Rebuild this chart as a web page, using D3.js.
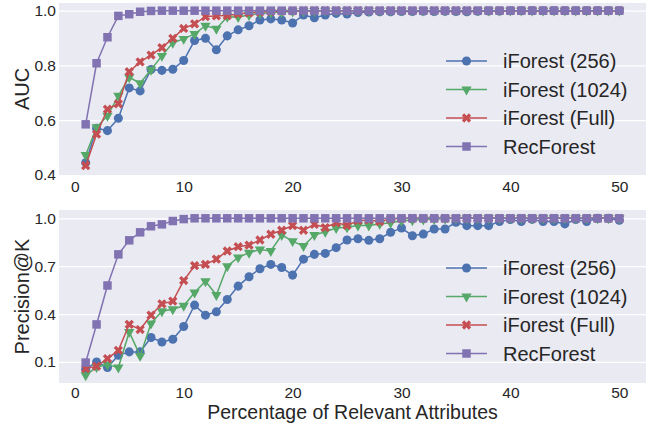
<!DOCTYPE html>
<html>
<head>
<meta charset="utf-8">
<script src="https://cdn.jsdelivr.net/npm/d3@7"></script>
<style>
  body { margin: 0; background: #fff; }
  svg { display: block; font-family: "Liberation Sans", Arial, sans-serif; }
  .tick text { fill: #262626; font-size: 15.5px; }
  .grid line { stroke: #fff; stroke-width: 1.2; }
  .label { fill: #262626; font-size: 20px; }
  .legend text { fill: #262626; font-size: 20px; }
</style>
</head>
<body>
<div id="chart"></div>
<script>
const pct = [1,2,3,4,5,6,7,8,9,10,11,12,13,14,15,16,17,18,19,20,21,22,23,24,25,
  26,27,28,29,30,31,32,33,34,35,36,37,38,39,40,41,42,43,44,45,46,47,48,49,50];

const seriesNames = ['iForest (256)', 'iForest (1024)', 'iForest (Full)', 'RecForest'];

const aucIF256 = [0.445,0.571,0.562,0.607,0.718,0.707,0.785,0.782,0.786,0.818,0.891,0.899,0.857,0.908,0.930,
  0.945,0.966,0.970,0.966,0.955,0.984,0.974,0.984,0.990,0.988,0.993,0.995,0.996,0.996,0.997,0.997,0.998,0.997,
  0.998,0.997,0.996,0.998,0.999,0.999,1.0,1.0,1.0,1.0,1.0,1.0,1.0,1.0,1.0,1.0,1.0];
const aucIF1024 = [0.473,0.574,0.616,0.689,0.757,0.735,0.784,0.835,0.883,0.897,0.915,0.945,0.934,0.978,0.977,
  0.984,0.990,0.993,0.995,0.997,0.998,0.999,1.0,1.0,1.0,1.0,1.0,1.0,1.0,1.0,1.0,1.0,1.0,1.0,1.0,1.0,1.0,1.0,
  1.0,1.0,1.0,1.0,1.0,1.0,1.0,1.0,1.0,1.0,1.0,1.0];
const aucIFFull = [0.434,0.549,0.640,0.660,0.777,0.813,0.838,0.865,0.899,0.935,0.952,0.978,0.981,0.982,0.988,
  0.992,0.995,0.997,0.998,0.999,1.0,1.0,1.0,1.0,1.0,1.0,1.0,1.0,1.0,1.0,1.0,1.0,1.0,1.0,1.0,1.0,1.0,1.0,1.0,
  1.0,1.0,1.0,1.0,1.0,1.0,1.0,1.0,1.0,1.0,1.0];
const aucRec = [0.585,0.808,0.903,0.981,0.987,0.996,0.999,1.0,1.0,1.0,1.0,1.0,1.0,1.0,1.0,1.0,1.0,1.0,1.0,1.0,
  1.0,1.0,1.0,1.0,1.0,1.0,1.0,1.0,1.0,1.0,1.0,1.0,1.0,1.0,1.0,1.0,1.0,1.0,1.0,1.0,1.0,1.0,1.0,1.0,1.0,1.0,
  1.0,1.0,1.0,1.0];

const pkIF256 = [0.054,0.100,0.065,0.142,0.163,0.163,0.253,0.225,0.242,0.322,0.456,0.393,0.414,0.491,0.575,
  0.634,0.684,0.711,0.692,0.644,0.744,0.774,0.780,0.816,0.864,0.872,0.862,0.872,0.912,0.939,0.891,0.901,0.933,
  0.933,0.975,0.954,0.954,0.954,0.980,0.992,0.980,0.993,0.980,0.980,0.965,0.992,0.980,1.0,1.0,0.988];
const pkIF1024 = [0.016,0.068,0.083,0.065,0.288,0.138,0.341,0.418,0.430,0.452,0.535,0.606,0.519,0.700,0.755,
  0.784,0.805,0.795,0.895,0.857,0.826,0.895,0.916,0.939,0.944,0.955,0.955,0.965,0.972,0.985,0.988,0.992,0.995,
  0.997,1.0,1.0,1.0,1.0,1.0,1.0,1.0,1.0,1.0,1.0,1.0,1.0,1.0,1.0,1.0,1.0];
const pkIFFull = [0.058,0.073,0.121,0.173,0.335,0.303,0.393,0.464,0.481,0.610,0.703,0.711,0.744,0.795,0.822,
  0.832,0.864,0.900,0.925,0.954,0.925,0.962,0.942,0.972,0.956,0.985,0.990,0.980,0.995,0.998,1.0,1.0,1.0,1.0,
  1.0,1.0,1.0,1.0,1.0,1.0,1.0,1.0,1.0,1.0,1.0,1.0,1.0,1.0,1.0,1.0];
const pkRec = [0.096,0.335,0.579,0.774,0.862,0.912,0.950,0.962,0.983,0.995,1.0,1.0,1.0,1.0,1.0,1.0,1.0,1.0,
  1.0,1.0,1.0,1.0,1.0,1.0,1.0,1.0,1.0,1.0,1.0,1.0,1.0,1.0,1.0,1.0,1.0,1.0,1.0,1.0,1.0,1.0,1.0,1.0,1.0,1.0,
  1.0,1.0,1.0,1.0,1.0,1.0];

const xTicks = [0, 10, 20, 30, 40, 50];
const aucTicks = [0.4, 0.6, 0.8, 1.0];
const pkTicks = [0.1, 0.4, 0.7, 1.0];

const width = 650;
const height = 423;
const colors = ['#4C72B0', '#55A868', '#C44E52', '#8172B2'];
const symbols = [
  d3.symbol(d3.symbolCircle, 64),
  d3.symbol(d3.symbolTriangle, 46),
  d3.symbol(d3.symbolCross, 54),
  d3.symbol(d3.symbolSquare, 72)
];
const rotations = [0, 180, 45, 0];

const left = 59, right = 646;

const svg = d3.select('#chart')
  .append('svg')
  .attr('width', width)
  .attr('height', height);

const x = d3.scaleLinear()
  .domain([1 - 0.05 * 49, 50 + 0.05 * 49])
  .range([left, right]);

function drawPanel(top, bottom, yDomain, yTicks, series, yLabel, legendTop, xPad) {
  const y = d3.scaleLinear().domain(yDomain).range([bottom, top]);
  const g = svg.append('g');

  g.append('rect')
    .attr('x', left)
    .attr('y', top)
    .attr('width', right - left)
    .attr('height', bottom - top)
    .attr('fill', '#EAEAF2');

  g.append('g')
    .attr('class', 'grid')
    .attr('transform', `translate(${left},0)`)
    .call(d3.axisLeft(y).tickValues(yTicks).tickFormat(d3.format('.1f'))
      .tickSize(-(right - left)).tickPadding(3))
    .call((s) => s.select('.domain').remove());

  g.append('g')
    .attr('transform', `translate(0,${bottom})`)
    .call(d3.axisBottom(x).tickValues(xTicks).tickSize(0).tickPadding(xPad))
    .call((s) => s.select('.domain').remove());

  g.append('text')
    .attr('class', 'label')
    .attr('text-anchor', 'middle')
    .attr('transform', `translate(29,${(top + bottom) / 2}) rotate(-90)`)
    .text(yLabel);

  const line = d3.line()
    .x((d, i) => x(pct[i]))
    .y((d) => y(d));

  series.forEach((values, k) => {
    g.append('path')
      .datum(values)
      .attr('fill', 'none')
      .attr('stroke', colors[k])
      .attr('stroke-width', 1.5)
      .attr('d', line);

    g.append('g')
      .selectAll('path')
      .data(values)
      .enter()
      .append('path')
      .attr('d', symbols[k])
      .attr('fill', colors[k])
      .attr('transform', (d, i) => `translate(${x(pct[i])},${y(d)}) rotate(${rotations[k]})`);
  });

  const legend = g.append('g')
    .attr('class', 'legend')
    .selectAll('g')
    .data(seriesNames)
    .enter()
    .append('g')
    .attr('transform', (d, i) => `translate(446,${legendTop + i * 28.5})`);

  legend.append('line')
    .attr('x1', 0)
    .attr('x2', 41)
    .attr('stroke', (d, i) => colors[i])
    .attr('stroke-width', 1.5);

  legend.append('path')
    .attr('d', (d, i) => symbols[i]())
    .attr('fill', (d, i) => colors[i])
    .attr('transform', (d, i) => `translate(20.5,0) rotate(${rotations[i]})`);

  legend.append('text')
    .attr('x', 57)
    .attr('dy', '0.35em')
    .text((d) => d);
}

drawPanel(3, 175, [0.4, 1.028], aucTicks, [aucIF256, aucIF1024, aucIFFull, aucRec], 'AUC', 61, 6);
drawPanel(210, 383, [-0.032, 1.052], pkTicks, [pkIF256, pkIF1024, pkIFFull, pkRec], 'Precision@K', 268, 4);

svg.append('text')
  .attr('class', 'label')
  .attr('text-anchor', 'middle')
  .style('font-size', '19.5px')
  .attr('x', (left + right) / 2)
  .attr('y', 419)
  .text('Percentage of Relevant Attributes');
</script>
</body>
</html>
